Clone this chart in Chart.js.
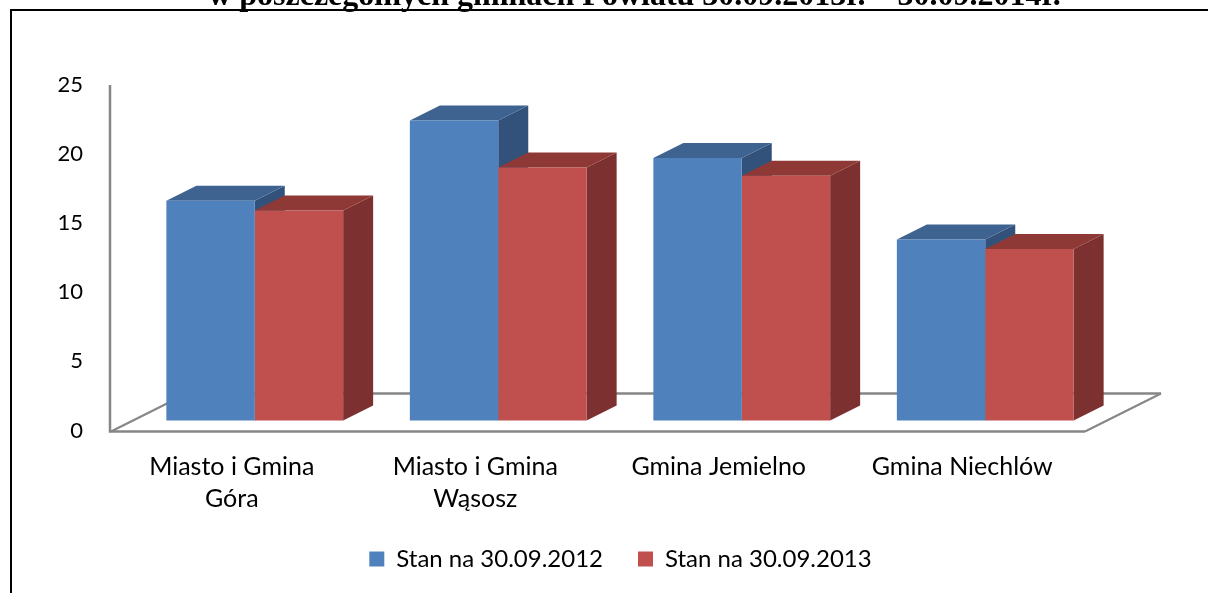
<!DOCTYPE html>
<html>
<head>
<meta charset="utf-8">
<style>
html, body { margin: 0; padding: 0; background: #fff; overflow: hidden; }
canvas { display: block; }
</style>
<script src="https://cdn.jsdelivr.net/npm/chart.js@4"></script>
</head>
<body>
<canvas id="wykres" width="1208" height="593"></canvas>
<script>
// dane
const tytul = 'w poszczególnych gminach Powiatu 30.09.2013r. – 30.09.2014r.';
const gminy = [['Miasto i Gmina', 'Góra'], ['Miasto i Gmina', 'Wąsosz'], 'Gmina Jemielno', 'Gmina Niechlów'];
const stan2012 = [15.9, 21.7, 19, 13.1];
const stan2013 = [15.2, 18.3, 17.7, 12.4];
const etykietaOsi = [0, 5, 10, 15, 20, 25];

const czcionka = 'Lato';
const kolorOsi = '#868686';
const glebia = { x: 30, y: -15 };     // glebokosc slupkow 3D
const podloga = { x: 76, y: -38, lewo: -22 };  // podloga wykresu

// boki i gora slupkow, podloga, ramka
const bryla = {
    id: 'bryla',
    afterLayout(chart) {
        chart.legend.left += 52; chart.legend.right += 52;
        chart.titleBlock.left += 66; chart.titleBlock.right += 66;
    },
    beforeDatasetsDraw(chart) {
        const ctx = chart.ctx;
        const a = chart.chartArea;
        const y0 = chart.scales.y.getPixelForValue(0) + 1;
        const x0 = a.left + podloga.lewo;
        const x1 = a.right + podloga.lewo;
        ctx.save();
        // ramka
        ctx.strokeStyle = '#000';
        ctx.lineWidth = 2;
        ctx.beginPath();
        ctx.moveTo(11, 594); ctx.lineTo(11, 10); ctx.lineTo(1209, 10);
        ctx.stroke();
        // podloga
        ctx.strokeStyle = kolorOsi;
        ctx.lineWidth = 2;
        ctx.beginPath();
        ctx.moveTo(x0, y0); ctx.lineTo(x0 + podloga.x, y0 + podloga.y);
        ctx.moveTo(x1, y0); ctx.lineTo(x1 + podloga.x, y0 + podloga.y);
        ctx.stroke();
        ctx.lineWidth = 2.5;
        ctx.beginPath();
        ctx.moveTo(x0 + podloga.x, y0 + podloga.y); ctx.lineTo(x1 + podloga.x, y0 + podloga.y);
        ctx.moveTo(x0 - 1, chart.scales.y.top); ctx.lineTo(x0 - 1, y0); ctx.lineTo(x1, y0);
        ctx.stroke();
        // slupki - kolejno serie, zeby czerwona gora zaslaniala niebieski bok
        chart.data.datasets.forEach((ds, i) => {
            chart.getDatasetMeta(i).data.forEach(el => {
                const l = el.x - el.width / 2, r = el.x + el.width / 2;
                ctx.fillStyle = ds.kolorBok;
                ctx.beginPath();
                ctx.moveTo(r, el.y); ctx.lineTo(r + glebia.x, el.y + glebia.y);
                ctx.lineTo(r + glebia.x, el.base + glebia.y); ctx.lineTo(r, el.base);
                ctx.closePath(); ctx.fill();
                ctx.fillStyle = ds.kolorGora;
                ctx.beginPath();
                ctx.moveTo(l, el.y); ctx.lineTo(l + glebia.x, el.y + glebia.y);
                ctx.lineTo(r + glebia.x, el.y + glebia.y); ctx.lineTo(r, el.y);
                ctx.closePath(); ctx.fill();
            });
        });
        ctx.restore();
    }
};

new Chart(document.getElementById('wykres'), {
    type: 'bar',
    plugins: [bryla],
    data: {
        labels: gminy,
        datasets: [
            { label: 'Stan na 30.09.2012', data: stan2012, backgroundColor: '#4F81BD', kolorBok: '#32527C', kolorGora: '#3E6390', yAxisID: 'slupki' },
            { label: 'Stan na 30.09.2013', data: stan2013, backgroundColor: '#C0504D', kolorBok: '#7C302F', kolorGora: '#8F3937', yAxisID: 'slupki' }
        ]
    },
    options: {
        responsive: false,
        animation: false,
        devicePixelRatio: 1,
        categoryPercentage: 0.726,
        barPercentage: 1,
        layout: { padding: { left: 30, right: 101, top: 0, bottom: 12 } },
        scales: {
            x: {
                grid: { display: false, drawTicks: false },
                border: { display: false },
                afterFit(s) { s.height = 81.5; },
                ticks: { color: '#000', font: { family: czcionka, size: 25, lineHeight: 1.28 }, labelOffset: -23, padding: 20, maxRotation: 0, autoSkip: false }
            },
            y: {
                min: 0, max: 25,
                grid: { display: false, drawTicks: false },
                border: { display: false },
                afterFit(s) { s.width = 103; },
                afterBuildTicks(s) { s.ticks = etykietaOsi.map(v => ({ value: v })); },
                ticks: { color: '#000', font: { family: czcionka, size: 22 }, padding: 50 }
            },
            // ta sama skala co y, tylko zero slupkow lezy 10 px nad linia osi
            slupki: { display: false, min: -0.725, max: 24.275 }
        },
        plugins: {
            tooltip: { enabled: false },
            title: {
                display: true, text: tytul, color: '#000',
                font: { family: 'Liberation Serif', size: 32, weight: 'bold' },
                padding: { top: -22, bottom: 68.6 }
            },
            legend: {
                position: 'bottom',
                labels: { color: '#000', boxWidth: 15, boxHeight: 15, padding: 35, font: { family: czcionka, size: 24 } }
            }
        }
    }
});
</script>
</body>
</html>
